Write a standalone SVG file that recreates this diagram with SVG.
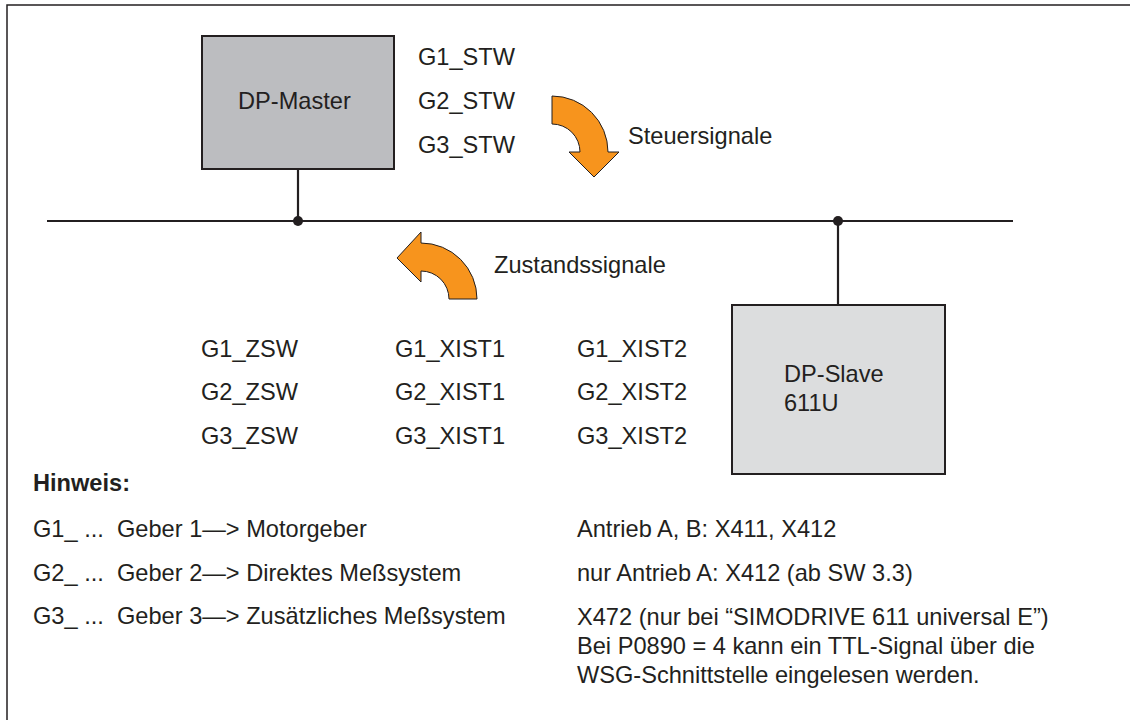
<svg xmlns="http://www.w3.org/2000/svg" width="1130" height="720" viewBox="0 0 1130 720">
<style>
text{font-family:"Liberation Sans",Arial,sans-serif;font-size:23.6px;fill:#231f20}
.b{font-weight:bold}
.box{stroke:#231f20;stroke-width:2}
.ln{stroke:#231f20;stroke-width:2.2;fill:none}
.arr{fill:#f7941d;stroke:#231f20;stroke-width:1}
</style>
<rect width="1130" height="720" fill="#fff"/>
<path d="M7,720 V5 H1130" fill="none" stroke="#231f20" stroke-width="1.5"/>
<g id="connectors">
<line class="ln" x1="47" y1="221" x2="1013" y2="221"/>
<line class="ln" x1="298" y1="169" x2="298" y2="221"/>
<line class="ln" x1="838" y1="221" x2="838" y2="305"/>
<circle cx="298" cy="221" r="5" fill="#231f20"/>
<circle cx="838" cy="221" r="5" fill="#231f20"/>
</g>
<g id="master">
<rect class="box" x="202" y="36" width="192" height="133" fill="#bcbdc0"/>
<text x="238" y="109">DP-Master</text>
</g>
<g id="slave">
<rect class="box" x="732" y="305" width="213" height="169" fill="#dcddde"/>
<text x="784" y="382">DP-Slave</text>
<text x="784" y="411">611U</text>
</g>
<g id="steuer">
<path class="arr" d="M552,96 A56,56 0 0 1 608,152 L619,152 L594,177 L569,152 L580,152 A28,28 0 0 0 552,124 Z"/>
<text x="628" y="144">Steuersignale</text>
</g>
<g id="zustand">
<path class="arr" d="M421,243 A56,56 0 0 1 477,299 L449,299 A28,28 0 0 0 421,271 L421,282 L397,258 L421,232 Z"/>
<text x="494" y="273">Zustandssignale</text>
</g>
<g id="stw">
<text x="418" y="65">G1_STW</text>
<text x="418" y="109">G2_STW</text>
<text x="418" y="153">G3_STW</text>
</g>
<g id="zsw">
<text x="201" y="357">G1_ZSW</text>
<text x="201" y="400">G2_ZSW</text>
<text x="201" y="444">G3_ZSW</text>
<text x="395" y="357">G1_XIST1</text>
<text x="395" y="400">G2_XIST1</text>
<text x="395" y="444">G3_XIST1</text>
<text x="577" y="357">G1_XIST2</text>
<text x="577" y="400">G2_XIST2</text>
<text x="577" y="444">G3_XIST2</text>
</g>
<g id="hinweis">
<text class="b" x="33" y="491">Hinweis:</text>
<text x="33" y="537">G1_ ...</text>
<text x="117" y="537">Geber 1—&gt; Motorgeber</text>
<text x="33" y="581">G2_ ...</text>
<text x="117" y="581">Geber 2—&gt; Direktes Meßsystem</text>
<text x="33" y="624">G3_ ...</text>
<text x="117" y="624">Geber 3—&gt; Zusätzliches Meßsystem</text>
<text x="577" y="537">Antrieb A, B: X411, X412</text>
<text x="577" y="581">nur Antrieb A: X412 (ab SW 3.3)</text>
<text x="577" y="625">X472 (nur bei “SIMODRIVE 611 universal E”)</text>
<text x="577" y="654">Bei P0890 = 4 kann ein TTL-Signal über die</text>
<text x="577" y="683">WSG-Schnittstelle eingelesen werden.</text>
</g>
</svg>
